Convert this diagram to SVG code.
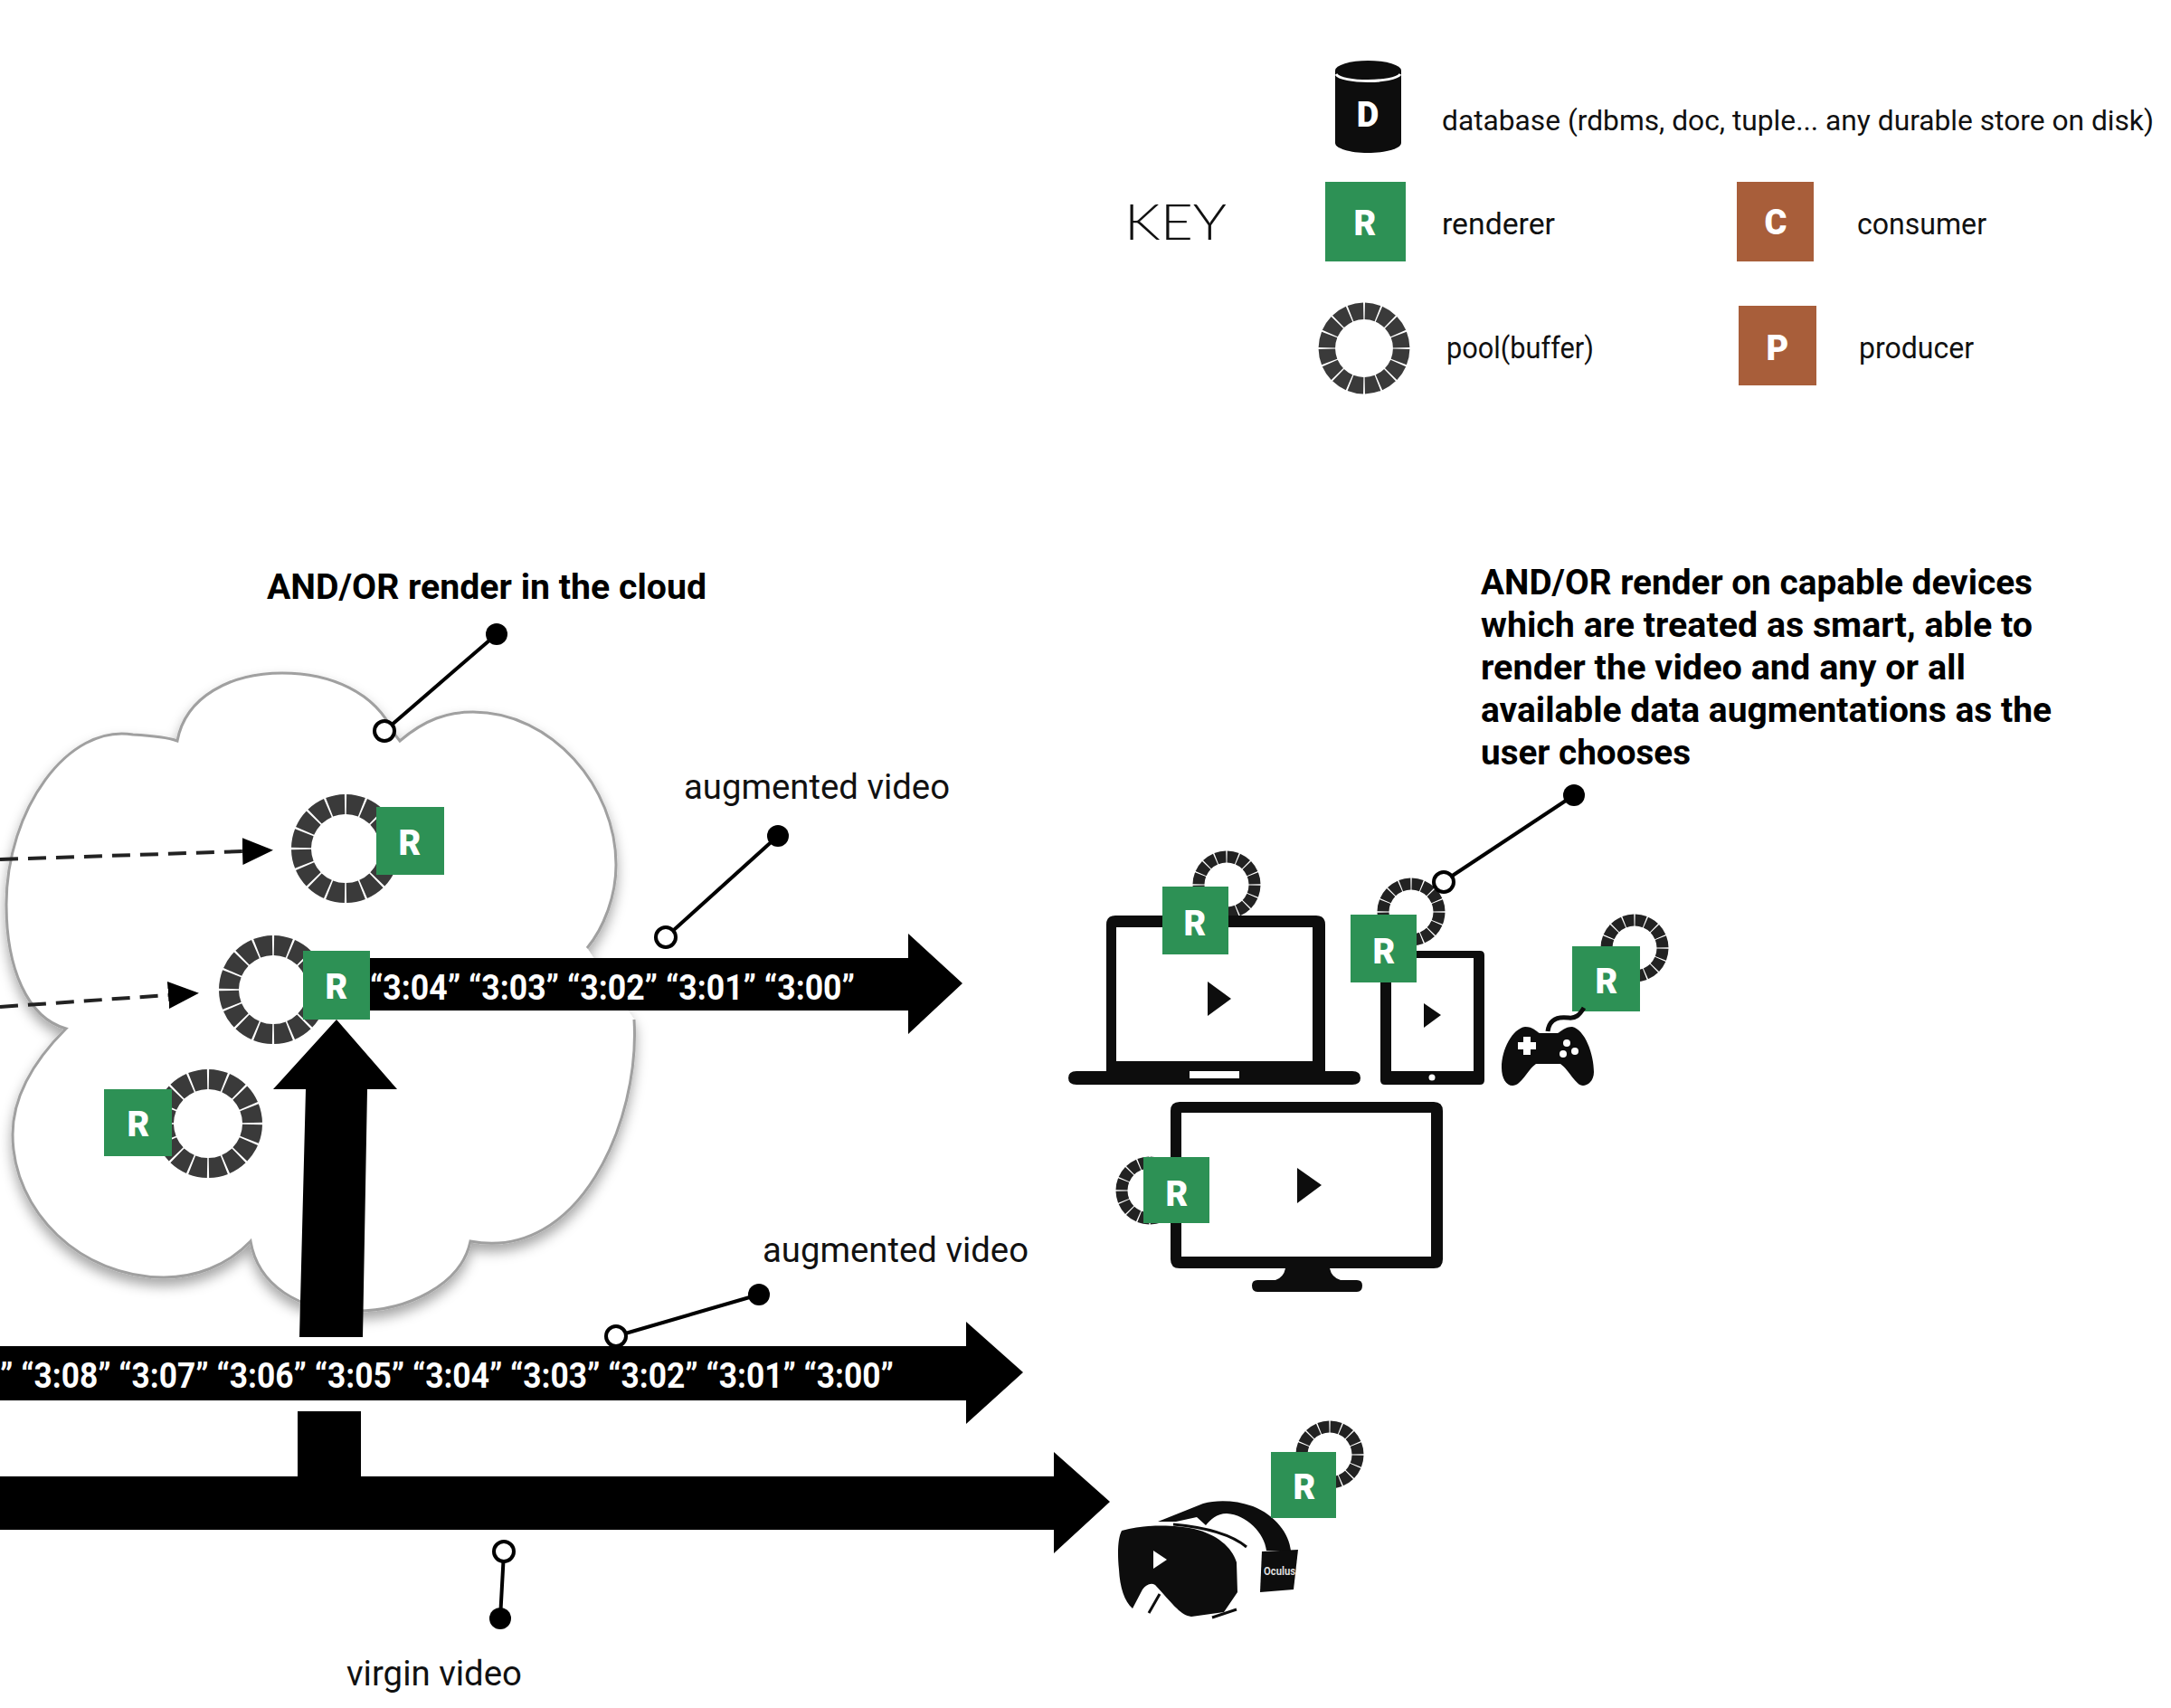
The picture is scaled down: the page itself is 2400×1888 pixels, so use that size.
<svg xmlns="http://www.w3.org/2000/svg" width="2400" height="1888" viewBox="0 0 2400 1888">
<style>
text{font-family:"Roboto","Liberation Sans",sans-serif}
.l{font-size:33px;fill:#111;font-weight:400}
.db{font-size:31px}
.a{font-size:38px;fill:#111;font-weight:400}
.b{font-size:38px;fill:#000;font-weight:700}
.t{font-size:38px;fill:#fff;font-weight:700}
.r{font-size:38px;fill:#fff;font-weight:900;text-anchor:middle}
.g{fill:#2d9155}.o{fill:#a85e3a}
.k{fill:#0d0d0d}
.p{fill:none;stroke-dasharray:.9 .1;stroke-dashoffset:-.05}
.co{stroke:#000;stroke-width:4;fill:none}
.dot{fill:#000}.hol{fill:#fff;stroke:#000;stroke-width:4}
.d{stroke:#222;stroke-width:4;fill:none;stroke-dasharray:20 11}
</style>
<defs>
<filter id="sh" x="-10%" y="-10%" width="120%" height="125%"><feDropShadow dx="0" dy="8" stdDeviation="7" flood-color="#000" flood-opacity=".35"/></filter>
<marker id="ah" markerUnits="userSpaceOnUse" markerWidth="40" markerHeight="34" refX="0" refY="15" orient="auto"><path d="M0 0L34 15L0 30Z" fill="#000"/></marker>
<circle id="pool" r="49" class="p" pathLength="16" stroke="#3a3a3a" stroke-width="22"/>
<circle id="pooldev" r="31" class="p" pathLength="16" stroke="#222" stroke-width="13"/>
</defs>

<g id="key">
<text x="1243" y="265" textLength="113" lengthAdjust="spacingAndGlyphs" style="font-family:Lato,sans-serif;font-weight:300;font-size:56px" fill="#111">KEY</text>
<g id="key-database">
<path class="k" d="M1476 78A36.500 11 0 0 1 1549 78V158C1549 164 1533 169 1512 169C1492 169 1476 164 1476 158Z"/>
<path d="M1477 82C1483 92 1541 92 1548 82" stroke="#fff" stroke-width="3" fill="none"/>
<text class="r" x="1512" y="140">D</text>
<text class="l db" x="1594" y="144" textLength="787" lengthAdjust="spacingAndGlyphs">database (rdbms, doc, tuple... any durable store on disk)</text>
</g>
<g id="key-renderer"><rect class="g" x="1465" y="201" width="89" height="88"/><text class="r" x="1509" y="260">R</text><text class="l" x="1594" y="259" textLength="125" lengthAdjust="spacingAndGlyphs">renderer</text></g>
<g id="key-consumer"><rect class="o" x="1920" y="201" width="85" height="88"/><text class="r" x="1963" y="259">C</text><text class="l" x="2053" y="259" textLength="143" lengthAdjust="spacingAndGlyphs">consumer</text></g>
<g id="key-pool"><use href="#pool" transform="translate(1508 385) scale(.84)"/><text class="l" x="1599" y="396" textLength="163" lengthAdjust="spacingAndGlyphs">pool(buffer)</text></g>
<g id="key-producer"><rect class="o" x="1922" y="338" width="86" height="88"/><text class="r" x="1965" y="398">P</text><text class="l" x="2055" y="396" textLength="127" lengthAdjust="spacingAndGlyphs">producer</text></g>
</g>

<g id="cloud">
<path filter="url(#sh)" fill="#fff" stroke="#a0a0a0" stroke-width="3" d="M701 1127C708 1240 640 1395 520 1372C510 1420 450 1450 390 1449C330 1450 285 1420 277 1372C250 1400 215 1412 181 1412C90 1412 14 1340 14 1254C14 1210 40 1170 73 1137C30 1125 7 1070 7 1000C7 895 75 800 147 812C165 813 185 815 196 819C205 770 255 744 312 744C365 744 415 765 435 810L442 819C470 795 495 787 523 787C610 787 681 870 681 956C681 990 668 1025 649 1048"/>
</g>

<g id="connectors">
<path class="d" d="M0 950L268 941" marker-end="url(#ah)"/>
<path class="d" d="M0 1113L186 1100" marker-end="url(#ah)"/>
<path id="arrow-top" fill="#000" d="M405 1059H1004V1032L1064 1087L1004 1143V1117H405Z"/>
<path id="arrow-up" fill="#000" d="M372 1127L439 1204H406L401 1478H331L338 1204H302Z"/>
<path id="arrow-mid" fill="#000" d="M0 1488H1068V1461L1131 1517L1068 1574V1548H0Z"/>
<path id="arrow-low" fill="#000" d="M0 1632H329L329 1560H399V1632H1165V1605L1227 1660L1165 1717V1691H0Z"/>
<path class="co" d="M424 809L549 701M736 1036L860 924M681 1477L839 1431M557 1716L553 1789"/>
<circle class="dot" cx="549" cy="701" r="12"/><circle class="hol" cx="425" cy="808" r="11"/>
<circle class="dot" cx="860" cy="924" r="12"/><circle class="hol" cx="736" cy="1036" r="11"/>
<circle class="dot" cx="839" cy="1431" r="12"/><circle class="hol" cx="681" cy="1477" r="11"/>
<circle class="hol" cx="557" cy="1715" r="11"/><circle class="dot" cx="553" cy="1789" r="12"/>
</g>

<g id="labels">
<text class="b" x="295" y="662" textLength="486" lengthAdjust="spacingAndGlyphs">AND/OR render in the cloud</text>
<text class="a" x="756" y="883" textLength="294" lengthAdjust="spacingAndGlyphs">augmented video</text>
<text class="a" x="843" y="1395" textLength="294" lengthAdjust="spacingAndGlyphs">augmented video</text>
<text class="a" x="383" y="1863" textLength="194" lengthAdjust="spacingAndGlyphs">virgin video</text>
<text class="b" x="1637" y="657" textLength="610" lengthAdjust="spacingAndGlyphs">AND/OR render on capable devices</text>
<text class="b" x="1637" y="704" textLength="610" lengthAdjust="spacingAndGlyphs">which are treated as smart, able to</text>
<text class="b" x="1637" y="751" textLength="536" lengthAdjust="spacingAndGlyphs">render the video and any or all</text>
<text class="b" x="1637" y="798" textLength="631" lengthAdjust="spacingAndGlyphs">available data augmentations as the</text>
<text class="b" x="1637" y="845" textLength="232" lengthAdjust="spacingAndGlyphs">user chooses</text>
<text class="t" x="409" y="1105" textLength="536" lengthAdjust="spacingAndGlyphs">“3:04” “3:03” “3:02” “3:01” “3:00”</text>
<text class="t" x="0" y="1534" textLength="988" lengthAdjust="spacingAndGlyphs">” “3:08” “3:07” “3:06” “3:05” “3:04” “3:03” “3:02” “3:01” “3:00”</text>
</g>

<g id="cloud-render-1"><use href="#pool" x="382" y="938"/><rect class="g" x="416" y="892" width="75" height="75"/><text class="r" x="453" y="945">R</text></g>
<g id="cloud-render-2"><use href="#pool" x="302" y="1094"/><rect class="g" x="335" y="1051" width="74" height="76"/><text class="r" x="372" y="1104">R</text></g>
<g id="cloud-render-3"><use href="#pool" x="230" y="1242"/><rect class="g" x="115" y="1204" width="75" height="74"/><text class="r" x="153" y="1256">R</text></g>

<g id="laptop">
<use href="#pooldev" transform="translate(1356 978)"/>
<path class="k" fill-rule="evenodd" d="M1233 1012H1455Q1465 1012 1465 1022V1184H1495Q1504 1184 1504 1191.500Q1504 1199 1495 1199H1190Q1181 1199 1181 1191.500Q1181 1184 1190 1184H1223V1022Q1223 1012 1233 1012ZM1234 1025V1173H1451V1025ZM1315 1184V1192H1370V1184Z"/>
<path class="k" d="M1335 1085L1361 1104L1335 1123Z"/>
<rect class="g" x="1285" y="980" width="73" height="75"/><text class="r" x="1321" y="1034">R</text>
</g>
<g id="tablet">
<use href="#pooldev" transform="translate(1560 1008)"/>
<path class="k" fill-rule="evenodd" d="M1532 1051H1636Q1641 1051 1641 1056V1194Q1641 1199 1636 1199H1531Q1526 1199 1526 1194V1056Q1526 1051 1532 1051ZM1538 1059V1184H1629V1059Z"/>
<circle cx="1583" cy="1191" r="3.500" fill="#fff"/>
<path class="k" d="M1574 1109L1593 1122L1574 1136Z"/>
<rect class="g" x="1493" y="1011" width="73" height="75"/><text class="r" x="1530" y="1065">R</text>
<circle class="hol" cx="1596" cy="975" r="11"/>
<path class="co" d="M1604 969L1740 879"/><circle class="dot" cx="1740" cy="879" r="12"/>
</g>
<g id="gamepad">
<use href="#pooldev" transform="translate(1807 1048)"/>
<rect class="g" x="1738" y="1046" width="75" height="72"/><text class="r" x="1776" y="1098">R</text>
<path d="M1751 1114C1746 1122 1742 1126 1734 1125C1726 1124 1713 1124 1711 1140" stroke="#0d0d0d" stroke-width="5" fill="none"/>
<path class="k" d="M1686 1135C1695 1135 1698 1140 1702 1142H1722C1726 1140 1730 1135 1738 1135C1752 1138 1762 1165 1762 1185C1762 1195 1755 1200 1750 1200C1742 1200 1735 1183 1725 1176H1698C1688 1183 1682 1200 1672 1200C1665 1200 1660 1192 1660 1180C1660 1160 1672 1137 1686 1135Z"/>
<path d="M1678 1156H1698M1688 1146V1166" stroke="#fff" stroke-width="8"/>
<circle cx="1732" cy="1153" r="4" fill="#fff"/><circle cx="1741" cy="1162" r="4" fill="#fff"/><circle cx="1728" cy="1165" r="4" fill="#fff"/>
</g>
<g id="monitor">
<use href="#pooldev" transform="translate(1271 1316)"/>
<path class="k" fill-rule="evenodd" d="M1304 1218H1585Q1595 1218 1595 1228V1392Q1595 1402 1585 1402H1470Q1472 1412 1482 1415H1500Q1506 1415 1506 1421Q1506 1428 1500 1428H1390Q1384 1428 1384 1421Q1384 1415 1390 1415H1410Q1419 1412 1421 1402H1304Q1294 1402 1294 1392V1228Q1294 1218 1304 1218ZM1306 1230V1389H1582V1230Z"/>
<path class="k" d="M1434 1291L1461 1310L1434 1330Z"/>
<rect class="g" x="1264" y="1279" width="73" height="73"/><text class="r" x="1301" y="1333">R</text>
</g>
<g id="headset">
<use href="#pooldev" transform="translate(1470 1608)"/>
<path class="k" d="M1280 1682L1330 1662C1345 1658 1365 1658 1385 1665C1410 1675 1425 1695 1427 1714L1400 1714C1398 1695 1378 1674 1356 1673C1345 1673 1338 1680 1333 1686L1323 1677L1300 1682Z"/>
<path class="k" d="M1240 1692C1270 1684 1300 1686 1320 1690C1345 1696 1362 1710 1367 1727L1368 1760L1353 1782L1317 1787C1305 1785 1300 1777 1277 1752C1272 1749 1267 1752 1263 1757L1252 1778C1243 1770 1238 1755 1237 1735C1235 1715 1236 1700 1240 1692Z"/>
<path d="M1297 1685C1330 1688 1360 1695 1378 1710M1282 1762L1270 1783M1340 1788L1367 1779" stroke="#0d0d0d" stroke-width="3" fill="none"/>
<path d="M1275 1714L1290 1724L1275 1734Z" fill="#fff"/>
<path class="k" d="M1395 1715L1435 1713L1430 1757L1393 1760Z"/>
<text x="1397" y="1741" textLength="35" lengthAdjust="spacingAndGlyphs" style="font-size:13px;font-weight:700" fill="#ddd">Oculus</text>
<rect class="g" x="1405" y="1605" width="72" height="73"/><text class="r" x="1442" y="1657">R</text>
</g>
</svg>
